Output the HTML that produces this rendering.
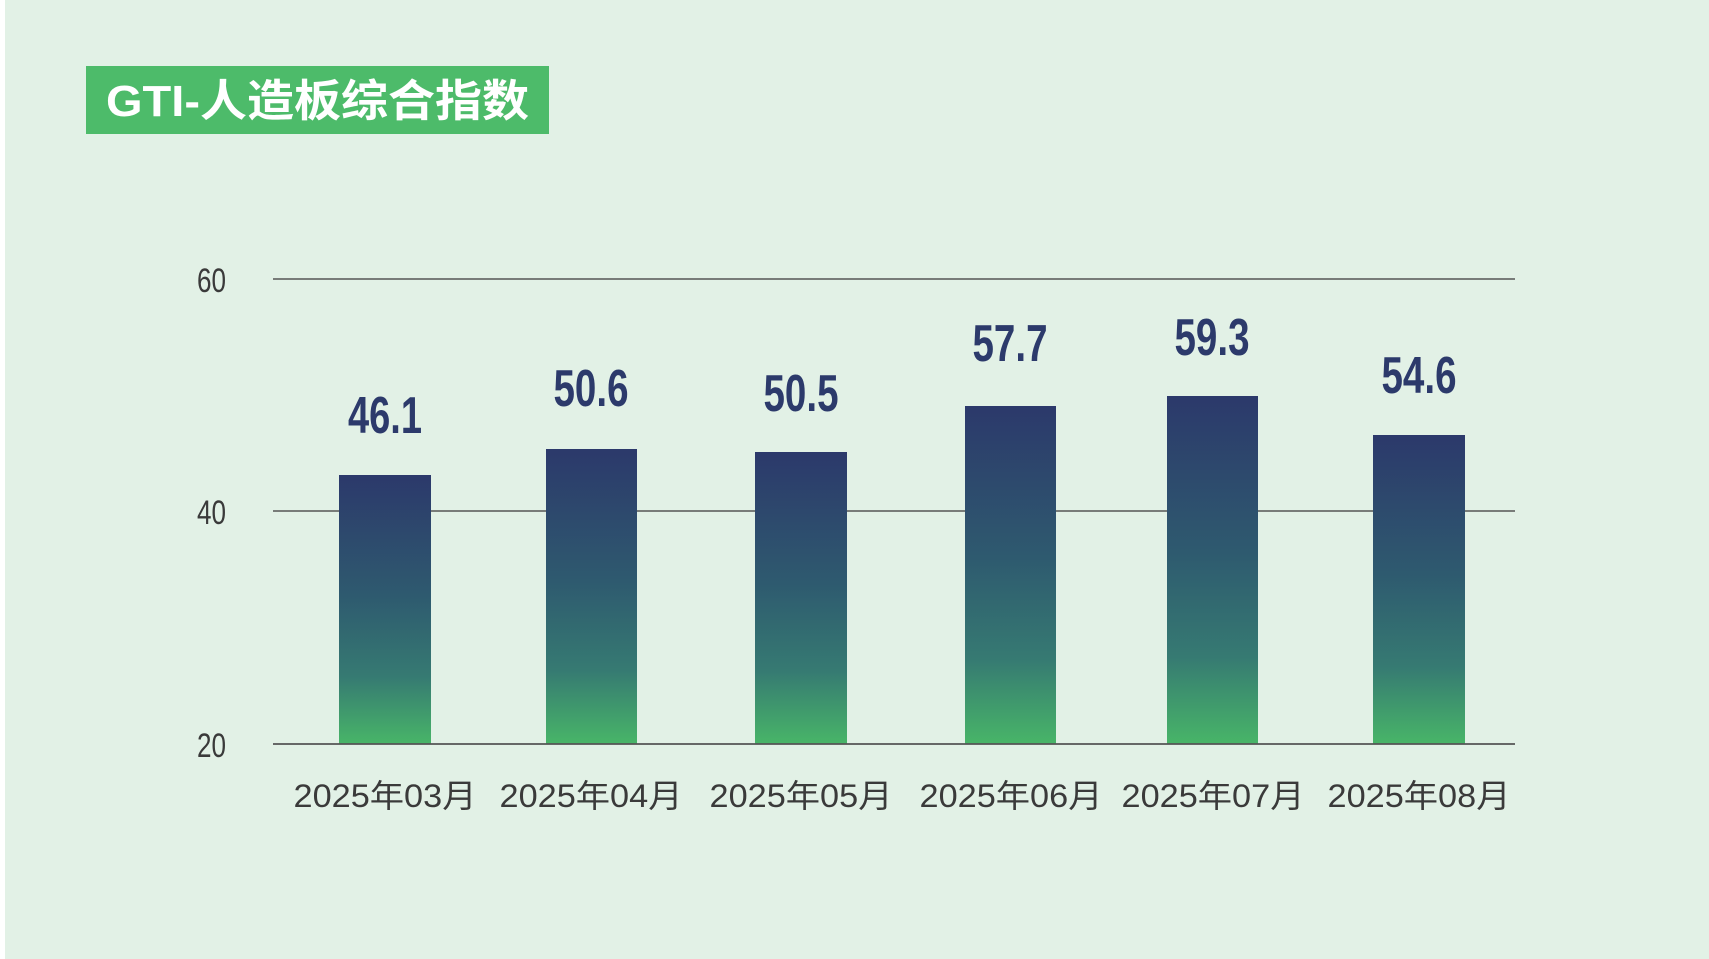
<!DOCTYPE html>
<html><head><meta charset="utf-8"><style>
html,body{margin:0;padding:0;background:#fff}
svg{display:block}
</style></head><body>
<svg width="1709" height="959" viewBox="0 0 1709 959" xmlns="http://www.w3.org/2000/svg">
<defs>
<linearGradient id="g" x1="0" y1="0" x2="0" y2="1">
<stop offset="0" stop-color="#2c396b"/>
<stop offset="0.45" stop-color="#2e5a6f"/>
<stop offset="0.75" stop-color="#367a72"/>
<stop offset="1" stop-color="#48b568"/>
</linearGradient>
</defs>
<rect x="5" y="0" width="1704" height="959" fill="#e2f1e6"/>
<rect x="86" y="66" width="463" height="68" fill="#4dbb6a"/>
<text x="106" y="116" font-family="Liberation Sans, Noto Sans CJK SC, sans-serif" font-weight="bold" font-size="44" fill="#fff" textLength="423" lengthAdjust="spacingAndGlyphs">GTI-人造板综合指数</text>
<g stroke="#555" stroke-width="1.6">
<line x1="273" y1="279" x2="1515" y2="279"/>
<line x1="273" y1="511" x2="1515" y2="511"/>
</g>
<g font-family="Liberation Sans Narrow, Liberation Sans, sans-serif" font-size="34" fill="#3a3a3a">
<text x="197" y="292" textLength="29" lengthAdjust="spacingAndGlyphs">60</text>
<text x="197" y="524" textLength="29" lengthAdjust="spacingAndGlyphs">40</text>
<text x="197" y="757" textLength="29" lengthAdjust="spacingAndGlyphs">20</text>
</g>
<g fill="url(#g)">
<rect x="339" y="475" width="92" height="269"/>
<rect x="546" y="449" width="91" height="295"/>
<rect x="755" y="452" width="92" height="292"/>
<rect x="965" y="406" width="91" height="338"/>
<rect x="1167" y="396" width="91" height="348"/>
<rect x="1373" y="435" width="92" height="309"/>
</g>
<line x1="273" y1="744" x2="1515" y2="744" stroke="#555" stroke-width="1.8"/>
<g font-family="Liberation Sans Narrow, Liberation Sans, sans-serif" font-weight="bold" font-size="52" fill="#2c3a6b" text-anchor="middle">
<text x="385" y="433" textLength="74" lengthAdjust="spacingAndGlyphs">46.1</text>
<text x="591" y="406" textLength="75" lengthAdjust="spacingAndGlyphs">50.6</text>
<text x="801" y="411" textLength="75" lengthAdjust="spacingAndGlyphs">50.5</text>
<text x="1010" y="361" textLength="75" lengthAdjust="spacingAndGlyphs">57.7</text>
<text x="1212" y="355" textLength="75" lengthAdjust="spacingAndGlyphs">59.3</text>
<text x="1419" y="393" textLength="75" lengthAdjust="spacingAndGlyphs">54.6</text>
</g>
<g font-family="Liberation Sans, Noto Sans CJK SC, sans-serif" font-size="32" fill="#3a3a3a" text-anchor="middle">
<text x="385" y="807" textLength="183" lengthAdjust="spacingAndGlyphs">2025年03月</text>
<text x="591" y="807" textLength="183" lengthAdjust="spacingAndGlyphs">2025年04月</text>
<text x="801" y="807" textLength="183" lengthAdjust="spacingAndGlyphs">2025年05月</text>
<text x="1011" y="807" textLength="183" lengthAdjust="spacingAndGlyphs">2025年06月</text>
<text x="1213" y="807" textLength="183" lengthAdjust="spacingAndGlyphs">2025年07月</text>
<text x="1419" y="807" textLength="183" lengthAdjust="spacingAndGlyphs">2025年08月</text>
</g>
</svg>
</body></html>
